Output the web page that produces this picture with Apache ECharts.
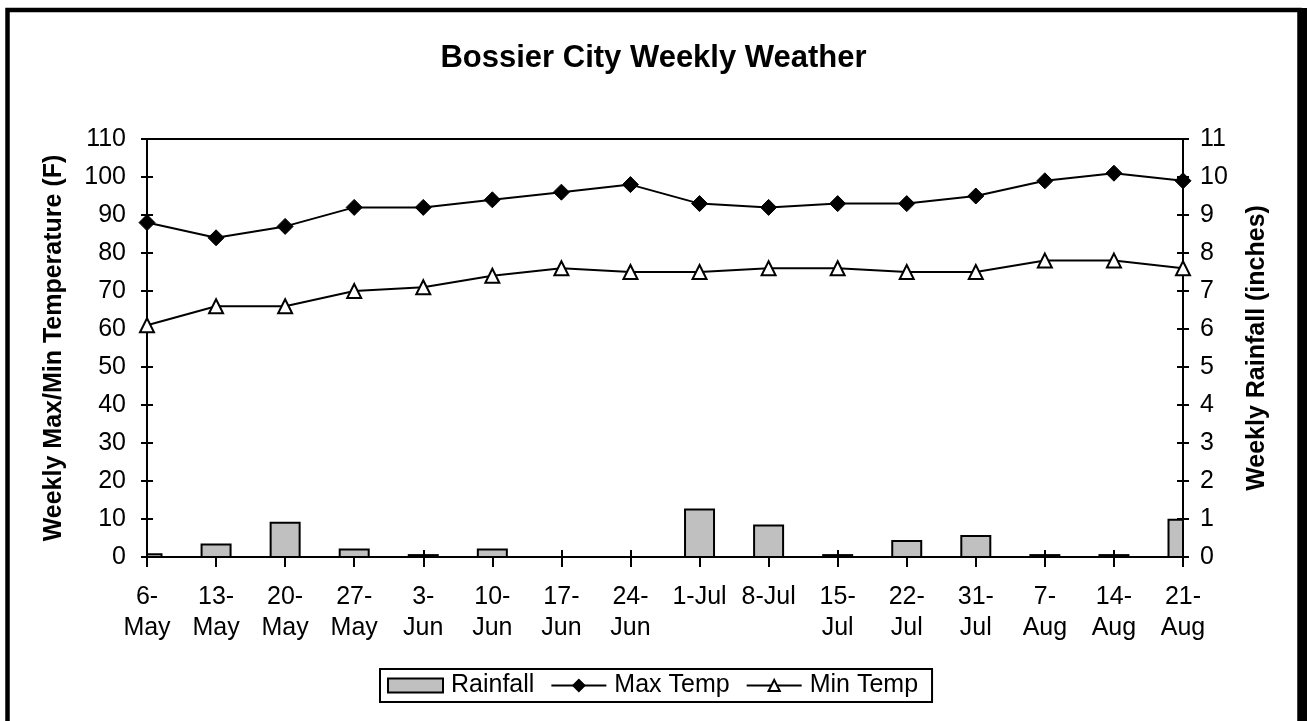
<!DOCTYPE html>
<html>
<head>
<meta charset="utf-8">
<script src="https://cdn.jsdelivr.net/npm/echarts@6/dist/echarts.min.js"></script>
<style>
html,body{margin:0;padding:0;background:#fff;}
#chart{width:1307px;height:721px;}
</style>
</head>
<body>
<div id="chart"></div>
<script>
const categories = ['6-\nMay','13-\nMay','20-\nMay','27-\nMay','3-\nJun','10-\nJun','17-\nJun','24-\nJun','1-Jul','8-Jul','15-\nJul','22-\nJul','31-\nJul','7-\nAug','14-\nAug','21-\nAug'];
const rainfall = [0.07,0.33,0.9,0.2,0.05,0.2,0,0,1.25,0.83,0.05,0.42,0.55,0.05,0.05,0.98];
const maxTemp = [88,84,87,92,92,94,96,98,93,92,93,93,95,99,101,99];
const minTemp = [61,66,66,70,71,74,76,75,75,76,76,75,75,78,78,76];
const title = 'Bossier City Weekly Weather';
const leftName = 'Weekly Max/Min Temperature (F)';
const rightName = 'Weekly Rainfall (inches)';

const FONT = '"Liberation Sans", Arial, sans-serif';
const chart = echarts.init(document.getElementById('chart'), null, {renderer:'canvas'});
const lineStyle = {color:'#000', width:2};
const textBase = {color:'#000', fontFamily: FONT};
const BAR_FILL = '#c0c0c0';

function renderRainBar(params, api){
  const idx = api.value(0);
  const top = api.coord([idx, api.value(1)]);
  const base = api.coord([idx, 0]);
  const w = 29;
  const cs = params.coordSys;
  const rect = echarts.graphic.clipRectByRect(
    {x: top[0] - w/2, y: top[1], width: w, height: base[1] - top[1]},
    {x: cs.x, y: cs.y, width: cs.width, height: cs.height}
  );
  if (!rect || rect.height <= 0) return null;
  return {type:'rect', shape: rect, style:{fill:BAR_FILL, stroke:'#000', lineWidth:2}};
}

chart.setOption({
  animation:false,
  backgroundColor:'#fff',
  title:{text:title, left:'center', top:38,
    textStyle:{...textBase, fontSize:31, fontWeight:'bold'}},
  legend:{
    left:380, top:669,
    data:[{name:'Rainfall', icon:'rect', itemStyle:{color:BAR_FILL, borderColor:'#000', borderWidth:2}}, 'Max Temp', 'Min Temp'],
    itemWidth:55, itemHeight:14, itemGap:16,
    padding:[4,14,4,7],
    borderColor:'#000', borderWidth:2,
    textStyle:{...textBase, fontSize:25, padding:[0,0,0,3]}
  },
  grid:{left:147, right:124, top:139, bottom:164, show:true, borderColor:'#000', borderWidth:2, containLabel:false},
  xAxis:[{
    type:'category', data:categories, boundaryGap:false,
    axisLine:{lineStyle:lineStyle},
    axisTick:{show:true, length:10, lineStyle:lineStyle, interval:0},
    axisLabel:{...textBase, fontSize:25, lineHeight:31, margin:25, interval:0}
  },{
    type:'category', data:categories, boundaryGap:false, position:'bottom',
    axisLine:{show:false},
    axisTick:{show:true, inside:true, length:7, lineStyle:lineStyle, interval:0},
    axisLabel:{show:false}
  }],
  yAxis:[{
    type:'value', position:'left', min:0, max:110, interval:10,
    name:leftName, nameLocation:'middle', nameRotate:90, nameGap:80,
    nameTextStyle:{...textBase, fontSize:25, fontWeight:'bold'},
    axisLine:{show:true, lineStyle:lineStyle},
    axisTick:{show:true, length:6, lineStyle:lineStyle},
    axisLabel:{...textBase, fontSize:25, margin:21},
    splitLine:{show:false}
  },{
    type:'value', position:'right', min:0, max:11, interval:1,
    name:rightName, nameLocation:'middle', nameRotate:90, nameGap:62,
    nameTextStyle:{...textBase, fontSize:25, fontWeight:'bold'},
    axisLine:{show:true, lineStyle:lineStyle},
    axisTick:{show:true, length:6, lineStyle:lineStyle},
    axisLabel:{...textBase, fontSize:25, margin:17},
    splitLine:{show:false}
  },{
    type:'value', position:'left', min:0, max:110, interval:10,
    axisLine:{show:false}, axisTick:{show:true, inside:true, length:6, lineStyle:lineStyle},
    axisLabel:{show:false}, splitLine:{show:false}
  },{
    type:'value', position:'right', min:0, max:11, interval:1,
    axisLine:{show:false}, axisTick:{show:true, inside:true, length:6, lineStyle:lineStyle},
    axisLabel:{show:false}, splitLine:{show:false}
  }],
  series:[{
    name:'Rainfall', type:'custom', xAxisIndex:0, yAxisIndex:1,
    data: rainfall.map((v, i) => [i, v]),
    encode:{x:0, y:1},
    renderItem: renderRainBar,
    itemStyle:{color:BAR_FILL, borderColor:'#000', borderWidth:2}
  },{
    name:'Max Temp', type:'line', xAxisIndex:0, yAxisIndex:0, data:maxTemp,
    symbol:'diamond', symbolSize:16, showAllSymbol:true,
    lineStyle:{color:'#000', width:2},
    itemStyle:{color:'#000', borderColor:'#000', borderWidth:1}
  },{
    name:'Min Temp', type:'line', xAxisIndex:0, yAxisIndex:0, data:minTemp,
    symbol:'triangle', symbolSize:14, showAllSymbol:true,
    lineStyle:{color:'#000', width:2},
    itemStyle:{color:'#fff', borderColor:'#000', borderWidth:2}
  }],
  graphic:[{
    type:'rect', silent:true, z:100,
    shape:{x:7.5, y:10, width:1292, height:730},
    style:{fill:null, stroke:'#000', lineWidth:4.5}
  },{
    type:'rect', silent:true, z:100,
    shape:{x:1298, y:8, width:9, height:730},
    style:{fill:'#000'}
  }]
});
</script>
</body>
</html>
